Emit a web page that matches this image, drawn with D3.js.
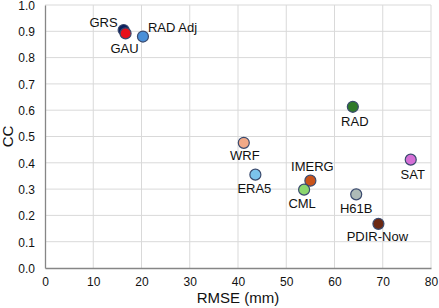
<!DOCTYPE html>
<html>
<head>
<meta charset="utf-8">
<script src="https://cdn.jsdelivr.net/npm/d3@7"></script>
<style>
  body { margin: 0; background: #fff; }
  text { font-family: "Liberation Sans", Arial, sans-serif; fill: #111; }
</style>
</head>
<body>
<div id="chart"></div>
<script>
// Data
var products = ["GRS", "GAU", "RAD Adj", "RAD", "WRF", "ERA5", "IMERG", "CML", "H61B", "PDIR-Now", "SAT"];
var rmse = [16.3, 16.7, 20.3, 63.8, 41.2, 43.6, 55.0, 53.7, 64.5, 69.1, 75.8];
var cc = [0.905, 0.892, 0.880, 0.613, 0.476, 0.355, 0.332, 0.298, 0.280, 0.168, 0.412];
var colors = ["#0c1f5e", "#e8101a", "#4a8fd8", "#2f7a2a", "#f2a987", "#7cc3ec", "#c9531a", "#8bd66e", "#aebbb7", "#6b2812", "#d56fd6"];
var xTicks = [0, 10, 20, 30, 40, 50, 60, 70, 80];
var yTicks = [0, 0.1, 0.2, 0.3, 0.4, 0.5, 0.6, 0.7, 0.8, 0.9, 1.0];

// label placement around each marker
var labelPos = {
    "GRS": {anchor: "end", dx: -6, dy: -3},
    "GAU": {anchor: "middle", dx: -1, dy: 20},
    "RAD Adj": {anchor: "start", dx: 5, dy: -5},
    "RAD": {anchor: "middle", dx: 2, dy: 19},
    "WRF": {anchor: "middle", dx: 1, dy: 17},
    "ERA5": {anchor: "middle", dx: -1, dy: 18},
    "IMERG": {anchor: "middle", dx: 2, dy: -10},
    "CML": {anchor: "middle", dx: -2, dy: 18},
    "H61B": {anchor: "middle", dx: 0, dy: 19},
    "PDIR-Now": {anchor: "middle", dx: -1, dy: 17},
    "SAT": {anchor: "middle", dx: 2, dy: 19}
};

var width = 439, height = 308;
var margin = {top: 5, left: 45, right: 8, bottom: 40};

var svg = d3.select("#chart").append("svg")
    .attr("width", width)
    .attr("height", height);

var x = d3.scaleLinear().domain([0, 80]).range([margin.left, width - margin.right]);
var y = d3.scaleLinear().domain([0, 1]).range([height - margin.bottom, margin.top]);

// gridlines
svg.append("g").selectAll("line.vg")
    .data(xTicks.slice(1))
    .join("line")
    .attr("x1", d => x(d)).attr("x2", d => x(d))
    .attr("y1", y(0)).attr("y2", y(1))
    .attr("stroke", "#d9d9d9").attr("stroke-width", 1);

svg.append("g").selectAll("line.hg")
    .data(yTicks.slice(1))
    .join("line")
    .attr("x1", x(0)).attr("x2", x(80))
    .attr("y1", d => y(d)).attr("y2", d => y(d))
    .attr("stroke", "#d9d9d9").attr("stroke-width", 1);

// axes
var xAxis = svg.append("g")
    .attr("transform", "translate(0," + y(0) + ")")
    .call(d3.axisBottom(x).tickValues(xTicks).tickSize(0).tickPadding(9).tickFormat(d3.format("d")));
var yAxis = svg.append("g")
    .attr("transform", "translate(" + x(0) + ",0)")
    .call(d3.axisLeft(y).tickValues(yTicks).tickSize(0).tickPadding(10).tickFormat(d3.format(".1f")));

[xAxis, yAxis].forEach(function(a) {
    a.select(".domain").attr("stroke", "#868686").attr("stroke-width", 1.3);
    a.selectAll("text").attr("font-size", 12).attr("fill", "#111")
        .style("font-family", "'Liberation Sans', Arial, sans-serif");
});
yAxis.selectAll("text").attr("dy", "0.36em");

// axis titles
svg.append("text")
    .attr("x", (x(0) + x(80)) / 2)
    .attr("y", 303)
    .attr("text-anchor", "middle")
    .attr("font-size", 15)
    .text("RMSE (mm)");

svg.append("text")
    .attr("transform", "translate(12.5," + (y(0.5)) + ") rotate(-90)")
    .attr("text-anchor", "middle")
    .attr("font-size", 15)
    .text("CC");

// points
var idx = d3.range(products.length);

svg.append("g").selectAll("circle")
    .data(idx)
    .join("circle")
    .attr("cx", i => x(rmse[i]))
    .attr("cy", i => y(cc[i]))
    .attr("r", 5.5)
    .attr("fill", i => colors[i])
    .attr("stroke", "#3a4a6e")
    .attr("stroke-width", 1.2);

svg.append("g").selectAll("text")
    .data(idx)
    .join("text")
    .attr("x", i => x(rmse[i]) + labelPos[products[i]].dx)
    .attr("y", i => y(cc[i]) + labelPos[products[i]].dy)
    .attr("text-anchor", i => labelPos[products[i]].anchor)
    .attr("font-size", 13)
    .text(i => products[i]);
</script>
</body>
</html>
